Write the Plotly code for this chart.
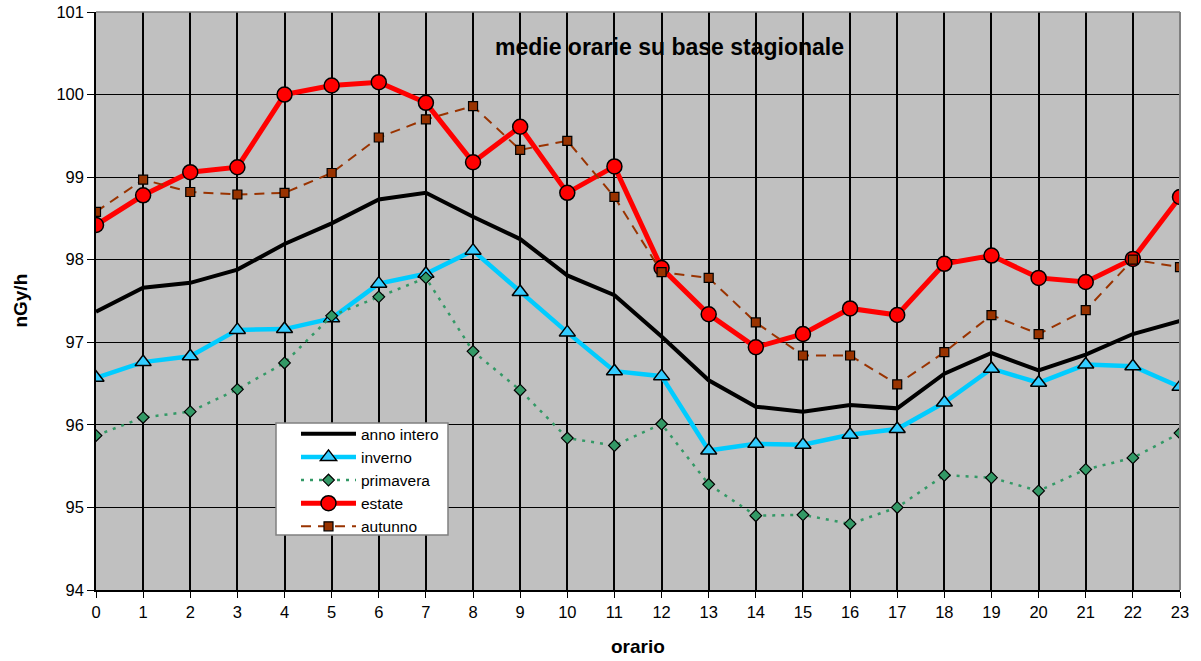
import plotly.graph_objects as go

# hourly averages (nGy/h) by season
ore = list(range(24))
anno_intero = [97.37, 97.66, 97.72, 97.88, 98.19, 98.44, 98.73, 98.81, 98.52, 98.25,
               97.81, 97.57, 97.07, 96.54, 96.22, 96.16, 96.24, 96.20, 96.62, 96.87,
               96.66, 96.85, 97.10, 97.26]
inverno = [96.57, 96.76, 96.83, 97.15, 97.16, 97.29, 97.71, 97.83, 98.11, 97.61,
           97.12, 96.65, 96.59, 95.69, 95.77, 95.76, 95.88, 95.95, 96.27, 96.68,
           96.51, 96.73, 96.71, 96.46]
primavera = [95.87, 96.09, 96.16, 96.43, 96.75, 97.32, 97.55, 97.78, 96.89, 96.42,
             95.84, 95.75, 96.01, 95.28, 94.90, 94.91, 94.80, 95.00, 95.39, 95.36,
             95.20, 95.46, 95.60, 95.90]
estate = [98.42, 98.78, 99.06, 99.12, 100.00, 100.11, 100.15, 99.90, 99.18, 99.61,
          98.81, 99.13, 97.90, 97.34, 96.94, 97.10, 97.41, 97.33, 97.95, 98.05,
          97.78, 97.73, 98.01, 98.76]
autunno = [98.58, 98.97, 98.82, 98.79, 98.81, 99.05, 99.48, 99.70, 99.86, 99.33,
           99.44, 98.76, 97.85, 97.78, 97.24, 96.84, 96.84, 96.49, 96.88, 97.33,
           97.10, 97.39, 98.00, 97.91]

FONT = "Liberation Sans, Arial, sans-serif"

fig = go.Figure()

fig.add_trace(go.Scatter(
    x=ore, y=anno_intero, name="anno intero", mode="lines",
    line=dict(color="#000000", width=4)))

fig.add_trace(go.Scatter(
    x=ore, y=inverno, name="inverno", mode="lines+markers",
    line=dict(color="#00CCFF", width=4.5),
    marker=dict(symbol="triangle-up", size=14, color="#33CCFF",
                line=dict(color="#000000", width=1.5))))

fig.add_trace(go.Scatter(
    x=ore, y=primavera, name="primavera", mode="lines+markers",
    line=dict(color="#339966", width=2.5, dash="3px,6px"),
    marker=dict(symbol="diamond", size=9, color="#339966",
                line=dict(color="#000000", width=1.2))))

fig.add_trace(go.Scatter(
    x=ore, y=estate, name="estate", mode="lines+markers",
    line=dict(color="#FF0000", width=5),
    marker=dict(symbol="circle", size=15, color="#FF0000",
                line=dict(color="#000000", width=1.5))))

fig.add_trace(go.Scatter(
    x=ore, y=autunno, name="autunno", mode="lines+markers",
    line=dict(color="#993300", width=2, dash="10px,7px"),
    marker=dict(symbol="square", size=9, color="#993300",
                line=dict(color="#000000", width=1.2))))

fig.update_layout(
    width=1201, height=661,
    margin=dict(l=96, r=21, t=12, b=71, autoexpand=False),
    paper_bgcolor="#FFFFFF",
    plot_bgcolor="#C0C0C0",
    font=dict(family=FONT, size=16, color="#000000"),
    showlegend=True,
    legend=dict(
        x=0.1845, y=0.299, xanchor="left", yanchor="top",
        bgcolor="rgba(0,0,0,0)", borderwidth=0,
        font=dict(family=FONT, size=15.5, color="#000000"),
        itemwidth=55, tracegroupgap=0,
    ),
    xaxis=dict(
        range=[0, 23], tickmode="array", tickvals=ore,
        ticktext=[str(h) for h in ore], automargin=False,
        showgrid=True, gridcolor="#000000", gridwidth=1.5,
        ticks="outside", ticklen=6, tickcolor="#000000", tickwidth=1,
        showline=True, linecolor="#000000", linewidth=1.5,
        zeroline=False, tickfont=dict(size=16.5),
    ),
    yaxis=dict(
        range=[94, 101], dtick=1, automargin=False,
        showgrid=True, gridcolor="#000000", gridwidth=1.2,
        ticks="outside", ticklen=7, tickcolor="#000000", tickwidth=1,
        showline=True, linecolor="#000000", linewidth=1.5,
        zeroline=False, tickfont=dict(size=16.5),
    ),
)

# gray border on the top and right sides of the plot area
fig.add_shape(type="line", xref="paper", yref="paper", x0=0, x1=1, y0=1, y1=1,
              line=dict(color="#808080", width=1.5))
fig.add_shape(type="line", xref="paper", yref="paper", x0=1, x1=1, y0=0, y1=1,
              line=dict(color="#808080", width=2))

# white legend frame
fig.add_shape(type="rect", xref="paper", yref="paper",
              x0=(276 - 96) / 1084, x1=(448 - 96) / 1084,
              y0=(590 - 535) / 578, y1=(590 - 423) / 578,
              fillcolor="#FFFFFF", line=dict(color="#808080", width=1.5),
              layer="above")

fig.add_annotation(
    text="<b>medie orarie su base stagionale</b>", xref="paper", yref="paper",
    x=0.5295, y=0.939, xanchor="center", yanchor="middle", showarrow=False,
    font=dict(family=FONT, size=23, color="#000000"))

fig.add_annotation(
    text="<b>nGy/h</b>", xref="paper", yref="paper",
    x=-0.0705, y=0.5, xanchor="center", yanchor="middle", showarrow=False,
    textangle=-90, font=dict(family=FONT, size=19, color="#000000"))

fig.add_annotation(
    text="<b>orario</b>", xref="paper", yref="paper",
    x=0.5, y=-0.0986, xanchor="center", yanchor="middle", showarrow=False,
    font=dict(family=FONT, size=19, color="#000000"))

fig.write_html("out.html")
